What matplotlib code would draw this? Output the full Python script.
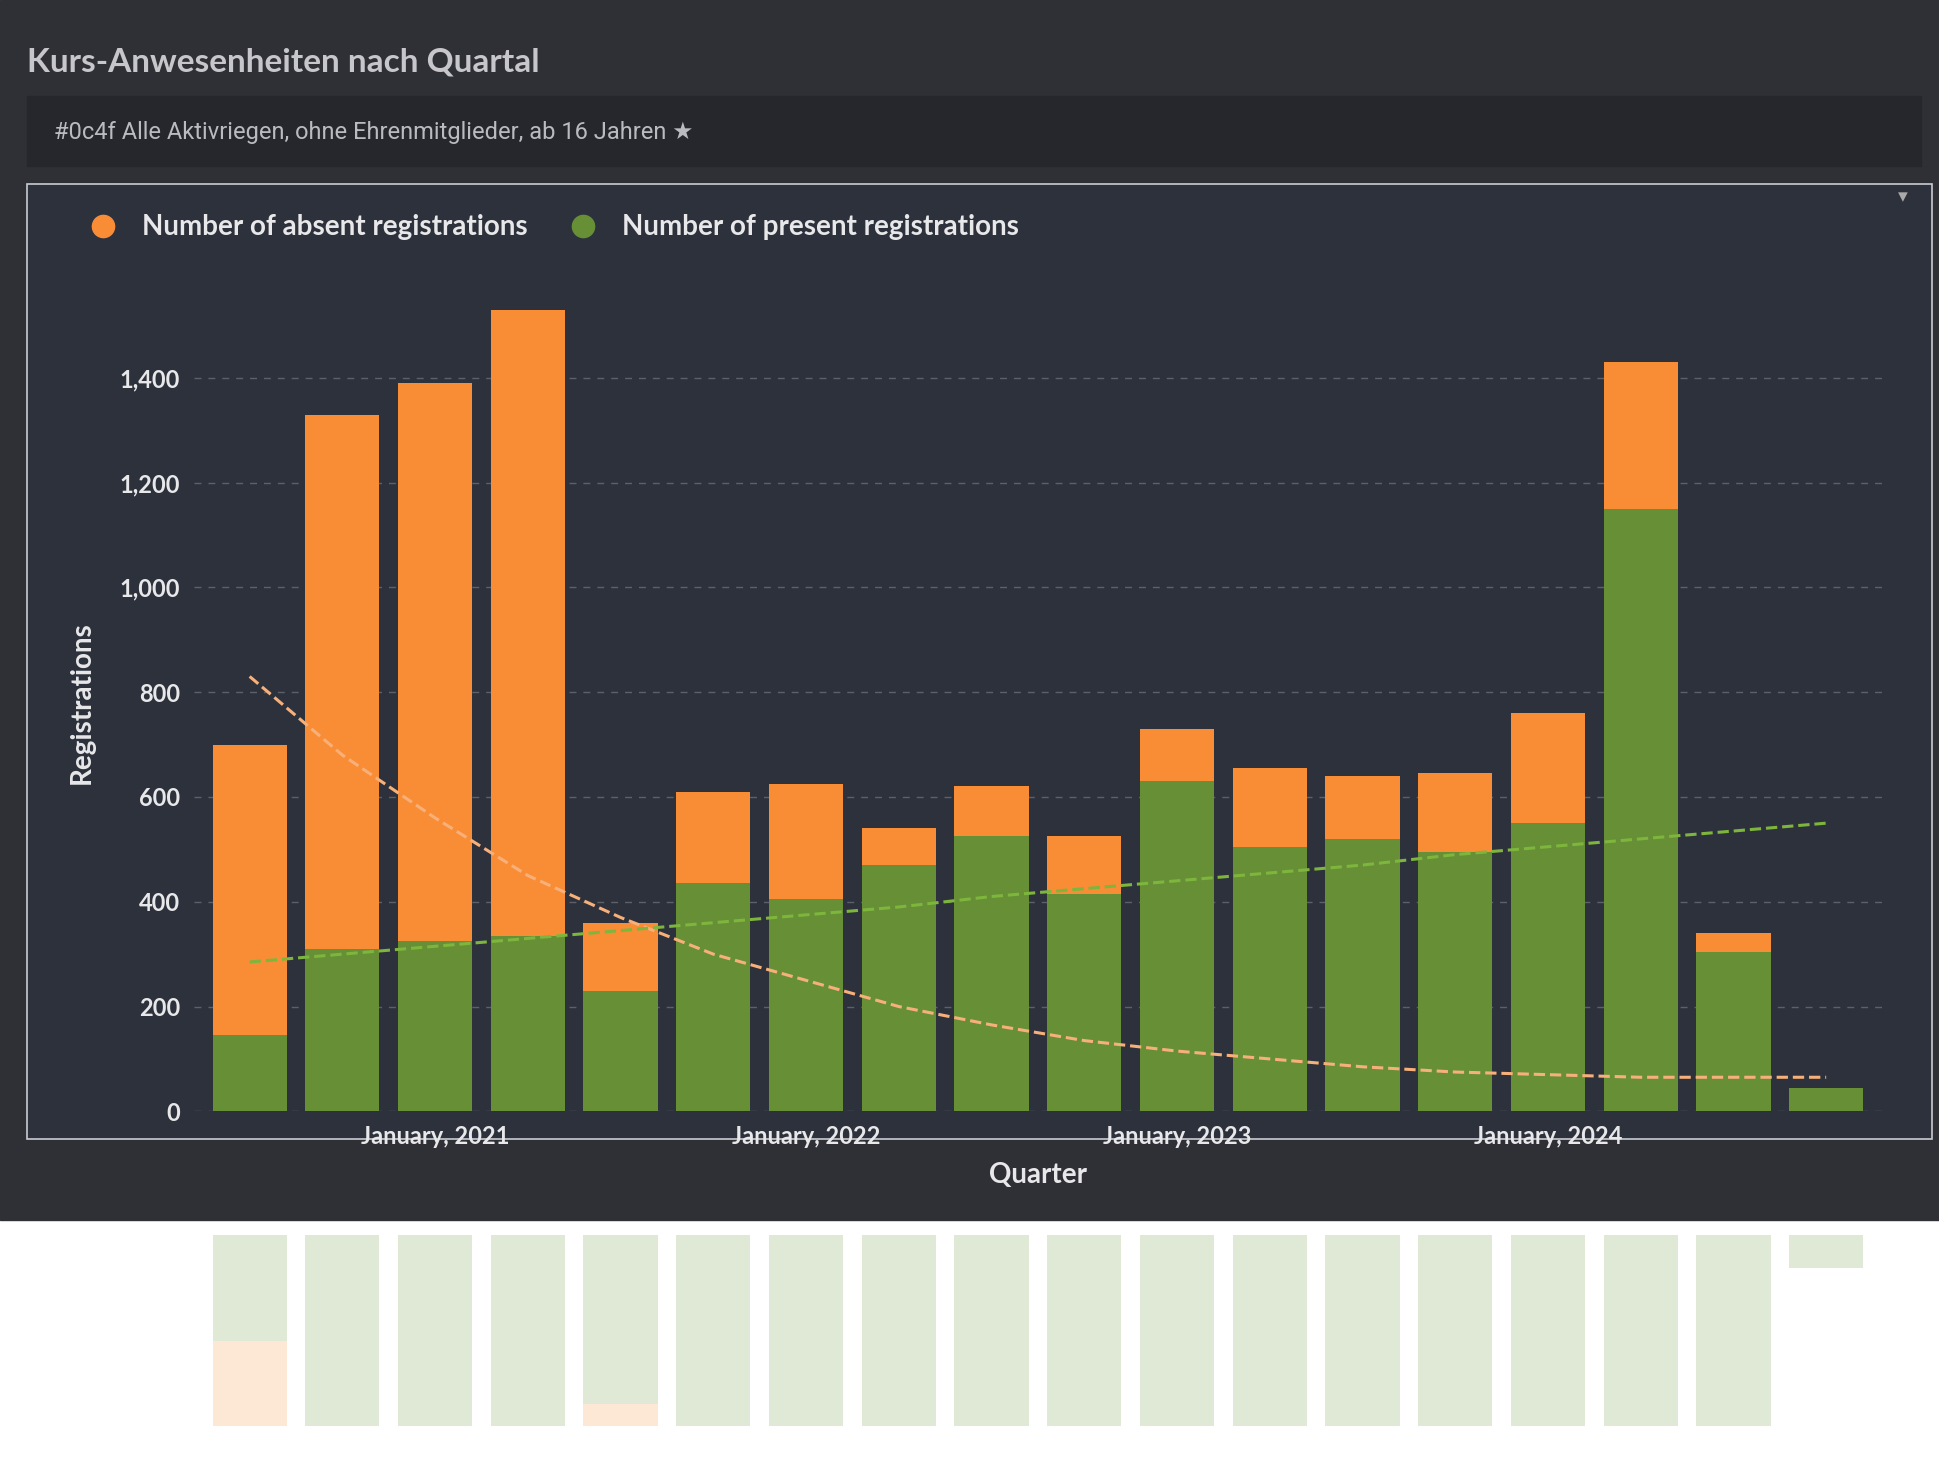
import matplotlib
matplotlib.use("Agg")
import matplotlib.pyplot as plt
from matplotlib.patches import Rectangle
import numpy as np

plt.rcParams['font.family'] = ['Lato', 'DejaVu Sans']

quarters = ["Q3 2020", "Q4 2020", "Q1 2021", "Q2 2021", "Q3 2021", "Q4 2021",
            "Q1 2022", "Q2 2022", "Q3 2022", "Q4 2022", "Q1 2023", "Q2 2023",
            "Q3 2023", "Q4 2023", "Q1 2024", "Q2 2024", "Q3 2024", "Q4 2024"]
present = [145, 310, 325, 335, 230, 435, 405, 470, 525, 415, 630, 505, 520, 495, 550, 1150, 305, 45]
absent = [555, 1020, 1065, 1195, 130, 175, 220, 70, 95, 110, 100, 150, 120, 150, 210, 280, 35, 0]
absent_trend = [830, 680, 560, 450, 370, 300, 250, 200, 165, 135, 115, 100, 85, 75, 70, 65, 65, 65]
present_trend = [285, 300, 315, 330, 345, 360, 375, 390, 410, 425, 440, 455, 470, 490, 505, 520, 535, 550]
tick_labels = {2: "January, 2021", 6: "January, 2022", 10: "January, 2023", 14: "January, 2024"}

ORANGE = "#f98d35"
GREEN = "#668f36"
TXT = "#e8e8ea"

fig = plt.figure(figsize=(19.4, 14.7), dpi=100)
fig.patch.set_facecolor("white")

fig.patches.append(Rectangle((0, 0.17), 1, 0.83, transform=fig.transFigure, color="#2f2f36", zorder=-10))
fig.patches.append(Rectangle((0.014, 0.887), 0.976, 0.048, transform=fig.transFigure,
                             color="#26272c", zorder=-9))
fig.patches.append(Rectangle((0.014, 0.225), 0.982, 0.65, transform=fig.transFigure,
                             facecolor="#2c313b", edgecolor="#c9ccd2", lw=1.2, zorder=-9))

fig.text(0.014, 0.958, "Kurs-Anwesenheiten nach Quartal", fontsize=24, color="#c7c7cb",
         fontweight="bold", va="center")
fig.text(0.028, 0.91, "#0c4f Alle Aktivriegen, ohne Ehrenmitglieder, ab 16 Jahren \u2605",
         fontsize=17, color="#b9bbc0", va="center", family=["Roboto", "DejaVu Sans"])
fig.text(0.981, 0.866, "\u25BE", fontsize=14, color="#aaaaaa", ha="center", va="center")

ax = fig.add_axes([0.10, 0.244, 0.87, 0.556])
ax.set_facecolor("#2c313b")
x = np.arange(len(quarters))
ax.bar(x, present, width=0.8, color=GREEN, zorder=3)
ax.bar(x, absent, bottom=present, width=0.8, color=ORANGE, zorder=3)
ax.plot(x, absent_trend, ls="--", color="#f7b07a", lw=2.2, zorder=4)
ax.plot(x, present_trend, ls="--", color="#7db53d", lw=2.2, zorder=4)
ax.set_xlim(-0.6, len(x) - 0.4)
ax.set_ylim(0, 1560)
ax.set_yticks(range(0, 1401, 200))
ax.set_yticklabels([f"{v:,}" for v in range(0, 1401, 200)])
ax.grid(axis="y", ls=(0, (5, 5)), color="#5c6069", lw=1, zorder=0)
ax.set_xticks(list(tick_labels.keys()))
ax.set_xticklabels(list(tick_labels.values()))
ax.tick_params(colors=TXT, labelsize=17, length=0, pad=10)
for lab in ax.get_xticklabels() + ax.get_yticklabels():
    lab.set_fontweight("bold")
for s in ax.spines.values():
    s.set_visible(False)
ax.set_ylabel("Registrations", fontsize=20, color=TXT, fontweight="bold", labelpad=18)
ax.set_xlabel("Quarter", fontsize=20, color=TXT, fontweight="bold", labelpad=10)

leg = ax.legend(handles=[plt.Line2D([], [], marker="o", ls="", color=ORANGE, markersize=16),
                         plt.Line2D([], [], marker="o", ls="", color=GREEN, markersize=16)],
                labels=["Number of absent registrations", "Number of present registrations"],
                loc="lower left", bbox_to_anchor=(-0.085, 1.035), ncol=2, frameon=False,
                fontsize=20, labelcolor=TXT, handletextpad=0.4, columnspacing=1.0)
for t in leg.get_texts():
    t.set_fontweight("bold")

rax = fig.add_axes([0.10, 0.03, 0.87, 0.13])
rax.set_facecolor("white")
rax.bar(x, present, width=0.8, color=GREEN, alpha=0.2)
rax.bar(x, absent, bottom=present, width=0.8, color=ORANGE, alpha=0.2)
rax.set_xlim(-0.6, len(x) - 0.4)
rax.set_ylim(260, 0)
rax.axis("off")

fig.savefig("out.png", dpi=100)
